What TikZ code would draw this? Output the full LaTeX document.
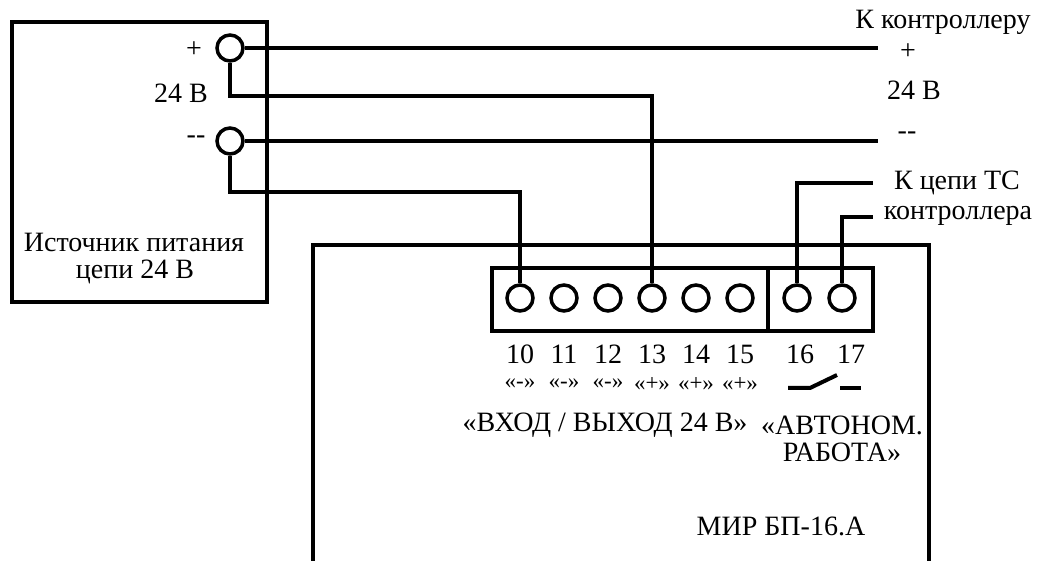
\documentclass[tikz,border=0pt]{standalone}
\usepackage{fontspec}
\setmainfont{Liberation Serif}
\usetikzlibrary{positioning}

\begin{document}
\begin{tikzpicture}[x=1pt,y=-1pt,node distance=44pt,on grid,
		line width=4.5pt,
		term/.style={circle,draw,line width=3.5pt,minimum size=26pt,inner sep=0pt},
		txt/.style={inner sep=0pt,font=\fontsize{28}{32}\selectfont},
		pol/.style={inner sep=0pt,font=\fontsize{23}{26}\selectfont}]
		\useasboundingbox (0,0) rectangle (1037,561);
		% power supply
		\draw (12,22) rectangle (267,302);
		\node[term] 			(pp) 	at (230,48) 	{};
		\node[term] 			(pm) 	at (230,141) 	{};
		\node[txt] 				at (194,50) 	{+};
		\node[txt] 				at (181,93) 	{24 В};
		\node[txt] 				at (196,140) 	{-{}-};
		\node[txt] 				(src1) 	at (134,242) 	{Источник питания};
		\node[txt] 				(src2) 	at (135,272) 	{цепи 24 В};
		% device
		\draw (313,561) -- (313,245) -- (929,245) -- (929,561);
		\draw (492,268) rectangle (873,331);
		\draw (768,268) -- (768,331);
		\node[term] 			(t10) 	at (520,298) 	{};
		\node[term] 			(t11) 	[right=of t10] 	{};
		\node[term] 			(t12) 	[right=of t11] 	{};
		\node[term] 			(t13) 	[right=of t12] 	{};
		\node[term] 			(t14) 	[right=of t13] 	{};
		\node[term] 			(t15) 	[right=of t14] 	{};
		\node[term] 			(t16) 	at (797,298) 	{};
		\node[term] 			(t17) 	[right=45pt of t16] 	{};
		\node[txt] 	(n10) 	[below=56pt of t10] 	{10};
		\node[txt] 	(n11) 	[below=56pt of t11] 	{11};
		\node[txt] 	(n12) 	[below=56pt of t12] 	{12};
		\node[txt] 	(n13) 	[below=56pt of t13] 	{13};
		\node[txt] 	(n14) 	[below=56pt of t14] 	{14};
		\node[txt] 	(n15) 	[below=56pt of t15] 	{15};
		\node[txt] 	(n16) 	[below=56pt of t16,xshift=3pt] 	{16};
		\node[txt] 	(n17) 	[below=56pt of t17,xshift=9pt] 	{17};
		\node[pol] 	(p10) 	[below=86pt of t10] 	{«-»};
		\node[pol] 	(p11) 	[below=86pt of t11] 	{«-»};
		\node[pol] 	(p12) 	[below=86pt of t12] 	{«-»};
		\node[pol] 	(p13) 	[below=86pt of t13] 	{«+»};
		\node[pol] 	(p14) 	[below=86pt of t14] 	{«+»};
		\node[pol] 	(p15) 	[below=86pt of t15] 	{«+»};
		\draw[line width=4pt] (788,388) -- (810,388) -- (837,375);
		\draw[line width=4pt] (840,388) -- (861,388);
		\node[txt] 	(io) 	at (605,425) 	{«ВХОД / ВЫХОД 24 В»};
		\node[txt] 	(au1) 	at (842,425) 	{«АВТОНОМ.};
		\node[txt] 	(au2) 	at (842,452) 	{РАБОТА»};
		\node[txt] 	(dev) 	at (781,526) 	{МИР БП-16.А};
		% controller side
		\coordinate (cp) at (878,48);
		\coordinate (cm) at (878,141);
		\coordinate (tc1) at (873,183);
		\coordinate (tc2) at (873,217);
		\node[txt] 	(ctl) 	at (943,22) 	{К контроллеру};
		\node[txt] 	at (908,52) 	{+};
		\node[txt] 	at (914,90) 	{24 В};
		\node[txt] 	at (907,136) 	{-{}-};
		\node[txt] 	(tc) 	at (957,183) 	{К цепи ТС};
		\node[txt] 	(tcc) 	at (958,216) 	{контроллера};
		% wires
		\draw (pp.east) -- (cp);
		\draw (pm.east) -- (cm);
		\draw (pp.south) |- (t13 |- 0,96) -- (t13.north);
		\draw (pm.south) |- (t10 |- 0,192) -- (t10.north);
		\draw (t16.north) |- (tc1);
		\draw (t17.north) |- (tc2);
	\end{tikzpicture}
\end{document}
